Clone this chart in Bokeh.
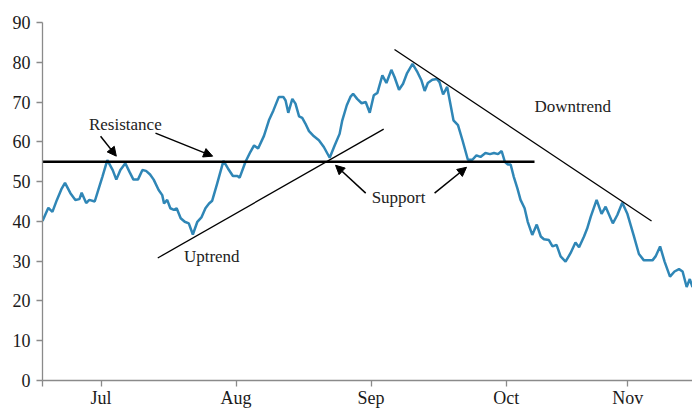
from bokeh.plotting import figure
from bokeh.models import Range1d, FixedTicker, Label, Arrow, NormalHead
from bokeh.embed import file_html
from bokeh.resources import INLINE

# ---- data (trading-day index, price) ----
days = [0, 1.3, 2.2, 3.2, 4.2, 5.0, 6.2, 7.3, 8.2, 8.7, 9.7, 10.4, 11.6, 12.4, 13.3, 14.4,
        15.6, 16.4, 17.3, 18.4, 19.3, 20.2, 21.2, 22.2, 23.0, 23.9, 24.7, 25.8, 26.6, 27.0,
        27.7, 28.4, 29.2, 29.8, 30.7, 31.6, 32.5, 33.4, 34.4, 35.3, 36.2, 37.0, 37.7, 38.8,
        40.2, 41.2, 42.3, 43.3, 43.8, 45.1, 46.2, 47.0, 47.9, 49.2, 50.3, 51.3, 52.5, 53.5,
        54.0, 54.6, 55.5, 56.2, 57.0, 57.7, 58.4, 59.2, 60.3, 61.4, 62.5, 63.8, 64.9, 66.0,
        66.6, 67.6, 68.4, 69.0, 69.9, 70.9, 71.8, 72.7, 73.6, 74.4, 75.5, 76.4, 77.5, 78.2,
        79.2, 80.1, 81.0, 82.2, 83.3, 84.2, 84.9, 85.6, 86.6, 87.6, 88.2, 89.0, 89.9, 91.3,
        92.3, 93.3, 94.5, 95.5, 96.4, 97.3, 98.4, 99.4, 100.3, 101.2, 102.0, 102.7, 103.4,
        104.0, 104.7, 105.5, 106.2, 107.1, 107.8, 108.8, 109.8, 110.7, 111.4, 112.5, 113.3,
        114.2, 115.1, 116.2, 117.3, 118.4, 119.2, 120.3, 121.0, 121.8, 123.1, 124.2, 125.1,
        126.7, 127.7, 128.8, 129.9, 131.3, 132.5, 133.6, 135.5, 136.2, 137.2, 138.2, 139.4,
        140.4, 141.4, 142.2, 143.1, 143.8, 144.4]
prices = [40.1, 43.4, 42.4, 45.4, 48.1, 49.7, 47.1, 45.4, 45.6, 47.2, 44.6, 45.4, 45.0, 47.9,
          51.2, 55.4, 52.9, 50.5, 52.9, 54.6, 52.5, 50.5, 50.5, 52.9, 52.7, 51.8, 50.5, 47.9,
          46.6, 44.5, 45.4, 43.3, 42.9, 43.3, 40.8, 39.9, 39.5, 36.7, 39.9, 41.0, 43.3, 44.5,
          45.2, 49.5, 55.2, 53.3, 51.4, 51.4, 51.0, 55.0, 57.5, 59.1, 58.3, 61.5, 65.4, 67.9,
          71.3, 71.3, 70.4, 67.3, 70.8, 69.6, 66.4, 66.0, 64.6, 62.7, 61.4, 60.4, 58.7, 56.0,
          59.1, 62.0, 65.4, 69.2, 71.3, 72.1, 70.8, 69.7, 70.0, 67.3, 71.7, 72.3, 76.7, 74.8,
          78.1, 76.3, 73.1, 74.6, 77.3, 79.6, 77.5, 75.4, 72.8, 74.8, 75.6, 75.8, 75.0, 71.9,
          73.8, 65.4, 64.2, 60.4, 55.5, 55.5, 56.6, 56.2, 57.2, 56.9, 57.2, 56.9, 57.7, 55.0,
          54.3, 54.3, 51.2, 48.3, 45.4, 43.3, 39.9, 36.6, 39.2, 36.2, 35.5, 35.3, 33.7, 34.1,
          31.2, 29.9, 32.0, 34.7, 33.5, 36.2, 38.2, 41.2, 45.4, 41.9, 43.7, 39.5, 41.6, 44.7,
          42.0, 36.6, 31.8, 30.2, 30.2, 31.2, 33.7, 29.9, 26.1, 27.4, 28.0, 27.4, 23.5, 25.5,
          23.5]

month_ticks = [0, 13, 43, 73, 103, 130]
month_labels = ["", "Jul", "Aug", "Sep", "Oct", "Nov"]
y_ticks = [0, 10, 20, 30, 40, 50, 60, 70, 80, 90]

level = 55                      # support / resistance level
level_x = [0, 109.3]
uptrend_x = [25.6, 75.8]
uptrend_y = [30.8, 63.2]
downtrend_x = [78.2, 135.3]
downtrend_y = [83.2, 40.1]

FONT = "Liberation Serif"

p = figure(width=692, height=410, output_backend="svg", toolbar_location=None,
           x_range=Range1d(0, 144.4), y_range=Range1d(0, 90),
           min_border_left=42, min_border_right=0, min_border_top=22, min_border_bottom=29)
p.outline_line_color = None
p.grid.visible = False
p.background_fill_color = "white"

# axes
for ax in (p.xaxis[0], p.yaxis[0]):
    ax.axis_line_color = "#8a8a8a"
    ax.axis_line_width = 1.3
    ax.major_tick_line_color = "#8a8a8a"
    ax.major_tick_line_width = 1.3
    ax.major_tick_out = 6
    ax.major_tick_in = 0
    ax.minor_tick_line_color = None
    ax.major_label_text_font = FONT
    ax.major_label_text_font_size = "18px"
    ax.major_label_text_color = "#1a1a1a"

p.yaxis.ticker = FixedTicker(ticks=y_ticks)
p.yaxis.major_label_standoff = 6
p.xaxis.ticker = FixedTicker(ticks=month_ticks)
p.xaxis.major_label_overrides = {t: l for t, l in zip(month_ticks, month_labels)}
p.xaxis.major_label_standoff = 1

# price line
p.line(days, prices, line_color="#2f86b6", line_width=2.5)

# support / resistance and trend lines
p.line(level_x, [level, level], line_color="black", line_width=2.5)
p.line(uptrend_x, uptrend_y, line_color="black", line_width=1.3)
p.line(downtrend_x, downtrend_y, line_color="black", line_width=1.3)

# arrows
arrows = [
    (12.9, 61.4, 16.4, 56.4),
    (25.1, 62.2, 37.8, 56.4),
    (71.8, 47.1, 65.1, 54.1),
    (87.1, 47.1, 94.2, 53.6),
]
for xs, ys, xe, ye in arrows:
    p.add_layout(Arrow(end=NormalHead(size=9, fill_color="black", line_color="black", line_width=1),
                       x_start=xs, y_start=ys, x_end=xe, y_end=ye,
                       line_color="black", line_width=1.5))

labels = [
    (18.4, 64.4, "Resistance"),
    (37.6, 31.1, "Uptrend"),
    (79.1, 45.9, "Support"),
    (117.8, 68.9, "Downtrend"),
]
for lx, ly, txt in labels:
    p.add_layout(Label(x=lx, y=ly, text=txt, text_align="center", text_baseline="middle",
                       text_font=FONT, text_font_size="17px", text_color="#222222"))

open("out.html", "w").write(file_html(p, INLINE))
